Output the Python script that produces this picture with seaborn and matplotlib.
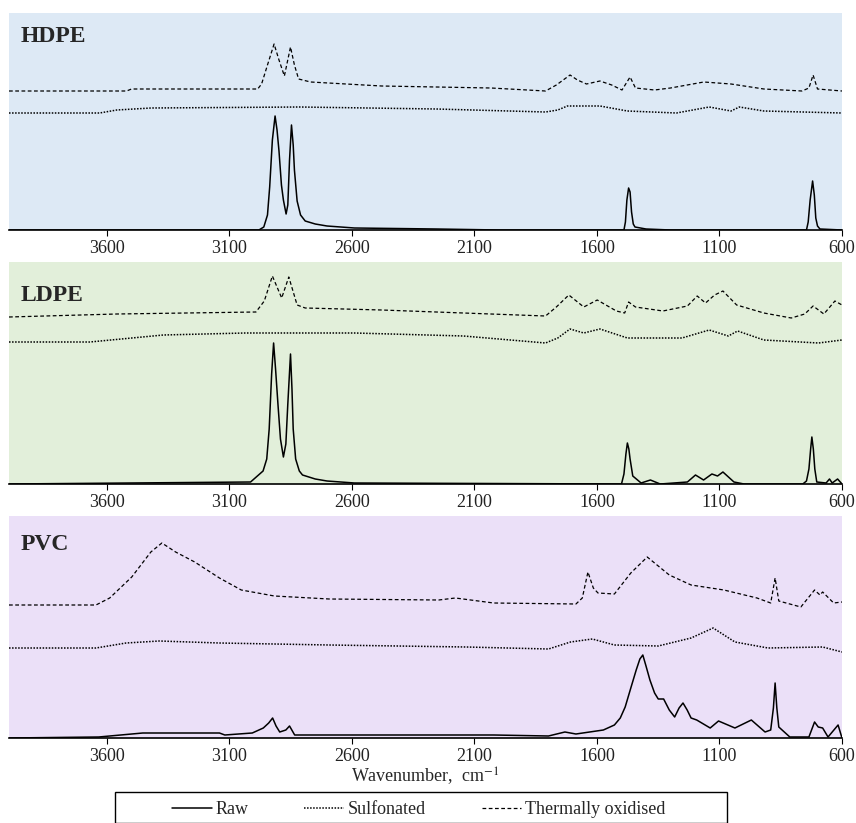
import matplotlib

matplotlib.use("Agg")
import matplotlib.pyplot as plt
import pandas as pd
import seaborn as sns
from matplotlib.lines import Line2D
from matplotlib.patches import Rectangle

# (wavenumber cm-1, stacked signal), one list per trace
HDPE_RAW = [(4000, 0), (2980, 0), (2960, 3), (2945, 15), (2936, 43), (2925, 90), (2914, 114),
            (2906, 100), (2898, 79), (2888, 45), (2880, 30), (2869, 16), (2862, 25),
            (2855, 70), (2847, 105), (2840, 85), (2835, 60), (2824, 29), (2810, 15),
            (2791, 9), (2750, 6), (2702, 4), (2590, 2), (2256, 1), (2000, 0), (1490, 0),
            (1484, 8), (1478, 30), (1471, 42), (1465, 38), (1459, 18), (1452, 6), (1445, 3),
            (1400, 1), (1300, 0), (745, 0), (738, 8), (730, 30), (720, 49), (713, 35),
            (707, 12), (700, 4), (690, 1), (600, 0)]
HDPE_SULF = [(4000, 117), (3630, 117), (3560, 120), (3420, 122), (2813, 123), (2256, 121),
             (1810, 118), (1760, 120), (1721, 124), (1588, 124), (1476, 119), (1276, 117),
             (1142, 123), (1053, 119), (1019, 123), (919, 119), (600, 117)]
HDPE_OX = [(4000, 139), (3520, 139), (3500, 141), (2985, 141), (2969, 146), (2945, 165),
           (2918, 186), (2898, 170), (2876, 154), (2851, 183), (2835, 165), (2818, 151),
           (2769, 148), (2479, 144), (2033, 142), (1810, 139), (1766, 145), (1710, 155),
           (1680, 150), (1643, 146), (1588, 149), (1540, 145), (1498, 140), (1465, 153),
           (1443, 142), (1365, 140), (1300, 142), (1164, 148), (1053, 146), (919, 141),
           (763, 139), (735, 142), (718, 155), (700, 141), (600, 139)]

LDPE_RAW = [(4000, 0), (3014, 2), (2963, 13), (2948, 25), (2938, 55), (2928, 110), (2920, 141),
            (2912, 115), (2902, 79), (2892, 45), (2880, 27), (2870, 40), (2862, 80),
            (2851, 130), (2845, 95), (2840, 55), (2830, 25), (2815, 13), (2802, 9),
            (2750, 5), (2702, 3), (2590, 1), (1500, 0), (1490, 10), (1482, 30), (1476, 41),
            (1470, 35), (1465, 25), (1454, 8), (1420, 1), (1382, 4), (1342, 0), (1231, 2),
            (1198, 9), (1165, 4), (1131, 10), (1108, 8), (1086, 12), (1041, 2), (1000, 0),
            (760, 0), (745, 3), (735, 15), (728, 35), (723, 47), (717, 35), (711, 15),
            (703, 2), (665, 1), (651, 5), (640, 1), (618, 5), (600, 0)]
LDPE_SULF = [(4000, 142), (3670, 142), (3370, 149), (3036, 151), (2590, 151), (2145, 148),
             (1810, 141), (1760, 146), (1710, 155), (1654, 151), (1588, 155), (1476, 146),
             (1253, 146), (1142, 154), (1064, 148), (1026, 153), (919, 144), (696, 141),
             (600, 144)]
LDPE_OX = [(4000, 167), (3560, 170), (2992, 172), (2958, 183), (2925, 208), (2887, 186),
           (2858, 207), (2824, 179), (2791, 176), (2479, 174), (2145, 171), (1810, 168),
           (1766, 177), (1715, 189), (1654, 177), (1599, 184), (1521, 173), (1487, 171),
           (1471, 182), (1443, 177), (1331, 173), (1231, 178), (1191, 188), (1157, 181),
           (1120, 189), (1086, 193), (1030, 179), (919, 171), (807, 166), (752, 170),
           (718, 178), (674, 170), (629, 183), (600, 179)]

PVC_RAW = [(4000, 0), (3634, 1), (3454, 5), (3141, 5), (3119, 3), (3007, 5), (2962, 10),
           (2940, 15), (2924, 20), (2910, 12), (2895, 6), (2870, 8), (2855, 12), (2834, 3),
           (2470, 3), (2022, 3), (1798, 2), (1731, 6), (1686, 4), (1574, 8), (1529, 13),
           (1505, 20), (1485, 31), (1462, 50), (1440, 68), (1425, 79), (1413, 83),
           (1400, 72), (1384, 58), (1365, 45), (1350, 39), (1328, 39), (1305, 28),
           (1283, 21), (1265, 30), (1249, 35), (1232, 28), (1216, 20), (1193, 18),
           (1138, 10), (1104, 17), (1037, 10), (970, 18), (914, 6), (891, 8), (880, 30),
           (873, 55), (866, 30), (858, 11), (813, 1), (735, 1), (712, 16), (697, 11),
           (679, 10), (657, 1), (616, 13), (600, 0)]
PVC_SULF = [(4000, 90), (3645, 90), (3522, 95), (3387, 97), (3141, 95), (2693, 93), (2134, 91),
            (1798, 89), (1708, 96), (1619, 99), (1529, 93), (1350, 92), (1216, 100),
            (1126, 110), (1037, 96), (902, 90), (679, 91), (600, 86)]
PVC_OX = [(4000, 133), (3645, 133), (3589, 140), (3499, 161), (3421, 186), (3376, 195),
          (3320, 186), (3242, 176), (3141, 160), (3052, 148), (2917, 142), (2693, 139),
          (2246, 138), (2178, 140), (2022, 135), (1686, 134), (1660, 140), (1637, 166),
          (1615, 150), (1596, 145), (1529, 144), (1462, 165), (1395, 181), (1305, 163),
          (1216, 153), (1082, 148), (947, 140), (891, 135), (873, 160), (858, 137),
          (768, 131), (712, 148), (690, 143), (679, 146), (634, 135), (600, 136)]

POLYMERS = ["HDPE", "LDPE", "PVC"]
SERIES = ["Raw", "Sulfonated", "Thermally oxidised"]
X_TICKS = [3600, 3100, 2600, 2100, 1600, 1100, 600]

PANEL_BG = {"HDPE": "#dde9f5", "LDPE": "#e2efda", "PVC": "#ebe0f8"}
LINE_STYLES = {
    "Raw": dict(linestyle="-", linewidth=1.1),
    "Sulfonated": dict(linestyle=(0, (1, 1)), linewidth=1.1),
    "Thermally oxidised": dict(linestyle=(0, (3, 2)), linewidth=0.9),
}


def trace_frame(points):
    return pd.DataFrame(points, columns=["wavenumber", "signal"])


sns.set_theme(style="white")
plt.rcParams["font.family"] = ["Liberation Serif", "DejaVu Serif"]
plt.rcParams["mathtext.fontset"] = "stix"

fig = plt.figure(figsize=(8.56, 8.23), dpi=100)
W, H = 856, 823

# panel extents in pixels: (top, bottom)
panels = {"HDPE": (13, 230), "LDPE": (262, 484), "PVC": (516, 738)}
label_y = {"HDPE": 0.894, "LDPE": 0.851, "PVC": 0.873}
traces = {
    "HDPE": [HDPE_RAW, HDPE_SULF, HDPE_OX],
    "LDPE": [LDPE_RAW, LDPE_SULF, LDPE_OX],
    "PVC": [PVC_RAW, PVC_SULF, PVC_OX],
}

axes = []
for name in POLYMERS:
    top, bottom = panels[name]
    ax = fig.add_axes([9 / W, 1 - bottom / H, 833 / W, (bottom - top) / H])
    ax.set_facecolor(PANEL_BG[name])
    for series, pts in zip(SERIES, traces[name]):
        sns.lineplot(data=trace_frame(pts), x="wavenumber", y="signal", sort=False,
                     estimator=None, color="black", ax=ax, **LINE_STYLES[series])
    ax.set_xlim(4000, 600)
    ax.set_ylim(0, bottom - top)
    ax.set_xticks(X_TICKS)
    ax.set_xticklabels([str(t) for t in X_TICKS])
    ax.set_yticks([])
    ax.set_xlabel("")
    ax.set_ylabel("")
    for side in ["left", "top", "right"]:
        ax.spines[side].set_visible(False)
    ax.spines["bottom"].set_color("black")
    ax.spines["bottom"].set_linewidth(1.2)
    ax.tick_params(axis="x", direction="out", length=4, width=0.8, color="black",
                   labelsize=13, labelcolor="#222222", pad=3, bottom=True)
    ax.text(0.0145, label_y[name], name, transform=ax.transAxes, fontsize=17,
            fontweight="bold", va="center", ha="left")
    axes.append(ax)

axes[-1].set_xlabel("Wavenumber,  cm$^{-1}$", fontsize=13, labelpad=0)

handles = [Line2D([], [], color="black", **LINE_STYLES[s]) for s in SERIES]
fig.legend(handles, SERIES, loc="center left", bbox_to_anchor=(172 / W, 1 - 810 / H),
           ncol=3, frameon=False, fontsize=13, handlelength=2.2, handletextpad=0.2,
           columnspacing=3.1, borderpad=0, borderaxespad=0)
fig.add_artist(Rectangle((115 / W, 0), 612 / W, 1 - 792 / H, transform=fig.transFigure,
                         fill=False, edgecolor="black", linewidth=1.0))

fig.savefig("out.png", dpi=100, facecolor="white")
plt.close(fig)
